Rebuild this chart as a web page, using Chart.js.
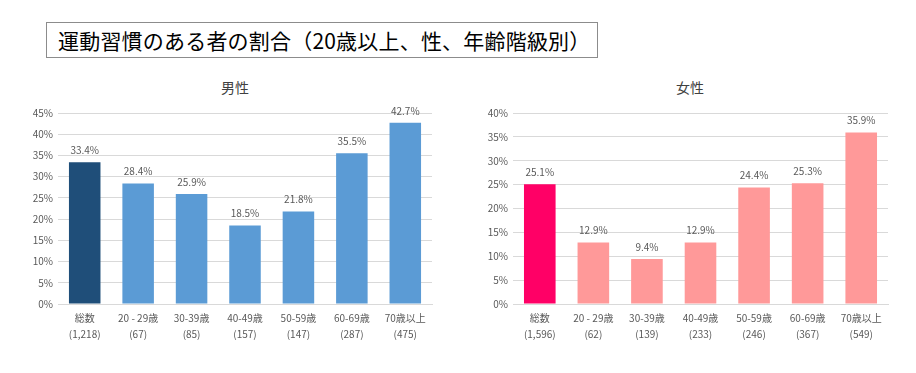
<!DOCTYPE html>
<html>
<head>
<meta charset="utf-8">
<script src="https://cdn.jsdelivr.net/npm/chart.js@4"></script>
<style>
  html, body { margin: 0; padding: 0; background: #ffffff; }
  body { width: 916px; height: 373px; position: relative; overflow: hidden; font-family: "Noto Sans CJK JP", "Noto Sans", sans-serif; }
  #title {
    position: absolute; left: 46px; top: 22px; width: 539px; height: 34px; padding-left: 11px;
    border: 1px solid #8c8c8c; box-sizing: content-box;
    font-size: 21px; letter-spacing: 0.2px; line-height: 34px; color: #000; text-align: left; white-space: nowrap;
  }
  .sub { position: absolute; top: 78px; width: 100px; text-align: center; font-size: 14px; color: #404040; line-height: 18px; }
  .wrap { position: absolute; top: 100px; height: 260px; }
</style>
</head>
<body>
<div id="title">運動習慣のある者の割合（20歳以上、性、年齢階級別）</div>
<div class="sub" style="left:185px;">男性</div>
<div class="sub" style="left:640px;">女性</div>
<div class="wrap" style="left:0px;width:450px;"><canvas id="c1" width="450" height="260"></canvas></div>
<div class="wrap" style="left:450px;width:466px;"><canvas id="c2" width="466" height="260"></canvas></div>
<script>
const categories = ['総数', '20 - 29歳', '30-39歳', '40-49歳', '50-59歳', '60-69歳', '70歳以上'];
const maleCounts = ['(1,218)', '(67)', '(85)', '(157)', '(147)', '(287)', '(475)'];
const femaleCounts = ['(1,596)', '(62)', '(139)', '(233)', '(246)', '(367)', '(549)'];
const maleValues = [33.4, 28.4, 25.9, 18.5, 21.8, 35.5, 42.7];
const femaleValues = [25.1, 12.9, 9.4, 12.9, 24.4, 25.3, 35.9];
const maleMax = 45;
const femaleMax = 40;

const TXT = '#595959';
const FONT = '"Noto Sans CJK JP", "Noto Sans", sans-serif';

const valueLabels = {
  id: 'valueLabels',
  afterDatasetsDraw(chart) {
    const ctx = chart.ctx;
    const meta = chart.getDatasetMeta(0);
    ctx.save();
    ctx.font = '10px ' + FONT;
    ctx.fillStyle = TXT;
    ctx.textAlign = 'center';
    ctx.textBaseline = 'middle';
    meta.data.forEach((bar, i) => {
      const v = chart.data.datasets[0].data[i];
      ctx.fillText(v.toFixed(1) + '%', bar.x, bar.y - 12);
    });
    ctx.restore();
  }
};

function makeChart(id, values, counts, max, colTotal, colOther, yWidth, padRight) {
  const labels = categories.map((c, i) => [c, counts[i]]);
  return new Chart(document.getElementById(id), {
    type: 'bar',
    data: {
      labels: labels,
      datasets: [{
        data: values,
        backgroundColor: values.map((v, i) => i === 0 ? colTotal : colOther),
        borderWidth: 0,
        categoryPercentage: 1.0,
        barPercentage: 0.59
      }]
    },
    options: {
      responsive: false,
      animation: false,
      layout: { padding: { top: 13, right: padRight, left: 0, bottom: 0 } },
      plugins: { legend: { display: false }, tooltip: { enabled: false } },
      scales: {
        x: {
          grid: { display: false, drawTicks: false },
          border: { display: true, color: '#d9d9d9' },
          ticks: { color: TXT, font: { family: FONT, size: 10, lineHeight: 1.6 }, padding: 6, maxRotation: 0, autoSkip: false },
          afterFit(scale) { scale.height = 56; }
        },
        y: {
          min: 0, max: max,
          grid: { color: '#d9d9d9', drawTicks: false },
          border: { display: false },
          ticks: { stepSize: 5, color: TXT, font: { family: FONT, size: 10 }, padding: 5, callback: v => v + '%' },
          afterFit(scale) { scale.width = yWidth; }
        }
      }
    },
    plugins: [valueLabels]
  });
}

makeChart('c1', maleValues, maleCounts, maleMax, '#1f4e79', '#5b9bd5', 58, 18);
makeChart('c2', femaleValues, femaleCounts, femaleMax, '#ff0066', '#ff9999', 63, 28);
</script>
</body>
</html>
